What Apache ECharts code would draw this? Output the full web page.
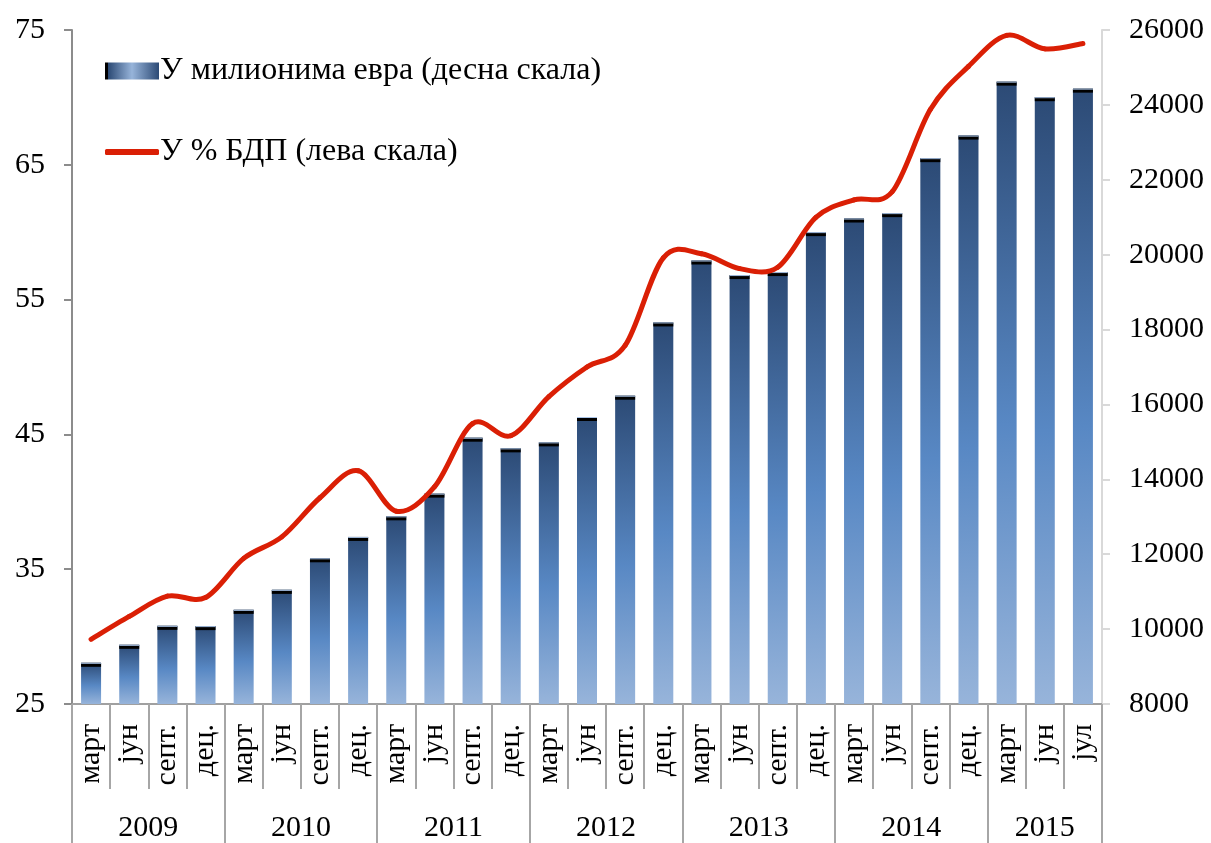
<!DOCTYPE html>
<html>
<head>
<meta charset="utf-8">
<script src="https://cdn.jsdelivr.net/npm/echarts@6/dist/echarts.min.js"></script>
<style>
html,body{margin:0;padding:0;background:#fff;}
#chart{width:1211px;height:843px;}
</style>
</head>
<body>
<div id="chart"></div>
<script>
const months = ['март','јун','септ.','дец.','март','јун','септ.','дец.','март','јун','септ.','дец.','март','јун','септ.','дец.','март','јун','септ.','дец.','март','јун','септ.','дец.','март','јун','јул'];
const years = ['2009','2010','2011','2012','2013','2014','2015'];
const yearBounds = [0,4,8,12,16,20,24,27];
const yearCenters = [2,6,10,14,18,22,25.5];
const eurMillions = [9100,9580,10087,10080,10514,11048,11891,12462,13012,13618,15112,14827,14987,15665,16233,18190,19844,19455,19535,20602,20965,21109,22577,23180,24621,24205,24434];
const pctGDP = [29.8,31.5,33.0,32.9,35.8,37.4,40.3,42.3,39.3,41.1,45.8,44.9,47.8,50.0,51.6,58.1,58.4,57.3,57.4,61.1,62.4,63.0,69.1,72.3,74.6,73.6,74.0];
const leftTicks = {min:25,max:75,interval:10};
const rightTicks = {min:8000,max:26000,interval:2000};
const barName = 'У милионима евра (десна скала)';
const lineName = 'У % БДП (лева скала)';

const FONT = 'Liberation Serif';
const RED = '#DA1F05';
const chart = echarts.init(document.getElementById('chart'));
const barGrad = new echarts.graphic.LinearGradient(0,0,0,1,[
  {offset:0,color:'#2C4A75'},
  {offset:0.55,color:'#5888C4'},
  {offset:1,color:'#97B4DA'}
]);
const legendGrad = new echarts.graphic.LinearGradient(0,0,1,0,[
  {offset:0,color:'#000'},{offset:0.05,color:'#000'},
  {offset:0.06,color:'#2C4A75'},{offset:0.5,color:'#97B4DA'},{offset:1,color:'#2C4A75'}
]);

// Smooth (Catmull-Rom style) curve segment from point i to i+1, positioned via the axes
function renderSegment(params, api){
  const i = params.dataIndex;
  const n = pctGDP.length;
  if (i >= n-1) return null;
  const P = k => api.coord([Math.max(0,Math.min(n-1,k)), pctGDP[Math.max(0,Math.min(n-1,k))]]);
  const p0 = P(i-1), p1 = P(i), p2 = P(i+1), p3 = P(i+2);
  const t = 1/6;
  return {
    type:'bezierCurve',
    shape:{
      x1:p1[0], y1:p1[1], x2:p2[0], y2:p2[1],
      cpx1:p1[0]+(p2[0]-p0[0])*t, cpy1:p1[1]+(p2[1]-p0[1])*t,
      cpx2:p2[0]-(p3[0]-p1[0])*t, cpy2:p2[1]-(p3[1]-p1[1])*t
    },
    style:{stroke:RED, lineWidth:5, fill:'none', lineCap:'round'}
  };
}

chart.setOption({
  animation:false,
  textStyle:{fontFamily:FONT},
  grid:{left:72,right:109,top:30,bottom:138,containLabel:false},
  legend:[
    {left:100,top:50,itemWidth:54,itemHeight:17,itemGap:10,
     data:[{name:barName,icon:'rect',itemStyle:{color:legendGrad}}],
     textStyle:{fontFamily:FONT,fontSize:32,color:'#000',padding:[0,0,0,-4]}},
    {left:100,top:131,itemWidth:54,itemHeight:6,
     data:[{name:lineName,icon:'roundRect',itemStyle:{color:RED}}],
     textStyle:{fontFamily:FONT,fontSize:32,color:'#000',padding:[0,0,0,-4]}}
  ],
  xAxis:[
    {type:'category',data:months,boundaryGap:true,position:'bottom',
     axisLine:{lineStyle:{color:'#A0A0A0',width:2}},
     axisTick:{show:true,interval:0,length:85,lineStyle:{color:'#A6A6A6',width:2}},
     axisLabel:{interval:0,rotate:90,margin:20,fontSize:30,color:'#000',fontFamily:FONT}},
    {type:'value',min:0,max:27,position:'bottom',
     axisLine:{show:false},splitLine:{show:false},
     axisTick:{show:true,customValues:yearBounds,length:145,lineStyle:{color:'#A6A6A6',width:2}},
     axisLabel:{customValues:yearCenters,margin:109,fontSize:30,color:'#000',fontFamily:FONT,
       formatter:function(v){const i=yearCenters.indexOf(v);return i>=0?years[i]:'';}}}
  ],
  yAxis:[
    {type:'value',position:'left',min:leftTicks.min,max:leftTicks.max,interval:leftTicks.interval,
     axisLine:{show:true,lineStyle:{color:'#8C8C8C',width:2}},
     axisTick:{show:true,length:8,lineStyle:{color:'#8C8C8C',width:2}},
     splitLine:{show:false},
     axisLabel:{margin:27,fontSize:30,color:'#000',fontFamily:FONT}},
    {type:'value',position:'right',min:rightTicks.min,max:rightTicks.max,interval:rightTicks.interval,
     axisLine:{show:true,lineStyle:{color:'#D9D9D9',width:2}},
     axisTick:{show:true,length:8,lineStyle:{color:'#D9D9D9',width:2}},
     splitLine:{show:false},
     axisLabel:{margin:27,fontSize:30,color:'#000',fontFamily:FONT,formatter:function(v){return String(v);}}}
  ],
  series:[
    {name:barName,type:'bar',xAxisIndex:0,yAxisIndex:1,data:eurMillions,barWidth:20,
     itemStyle:{color:barGrad},z:2},
    {name:'cap2',type:'pictorialBar',xAxisIndex:0,yAxisIndex:1,data:eurMillions,
     symbol:'rect',symbolSize:[20,4],symbolPosition:'end',barGap:'-100%',
     itemStyle:{color:'#000'},z:3,silent:true},
    {name:'cap1',type:'pictorialBar',xAxisIndex:0,yAxisIndex:1,data:eurMillions,
     symbol:'rect',symbolSize:[20,1],symbolPosition:'end',barGap:'-100%',
     itemStyle:{color:'#A9C4E8'},z:4,silent:true},
    {name:lineName,type:'custom',xAxisIndex:0,yAxisIndex:0,
     data:pctGDP.map((v,i)=>[i,v]),renderItem:renderSegment,
     itemStyle:{color:RED},z:5,silent:true}
  ]
});
</script>
</body>
</html>
